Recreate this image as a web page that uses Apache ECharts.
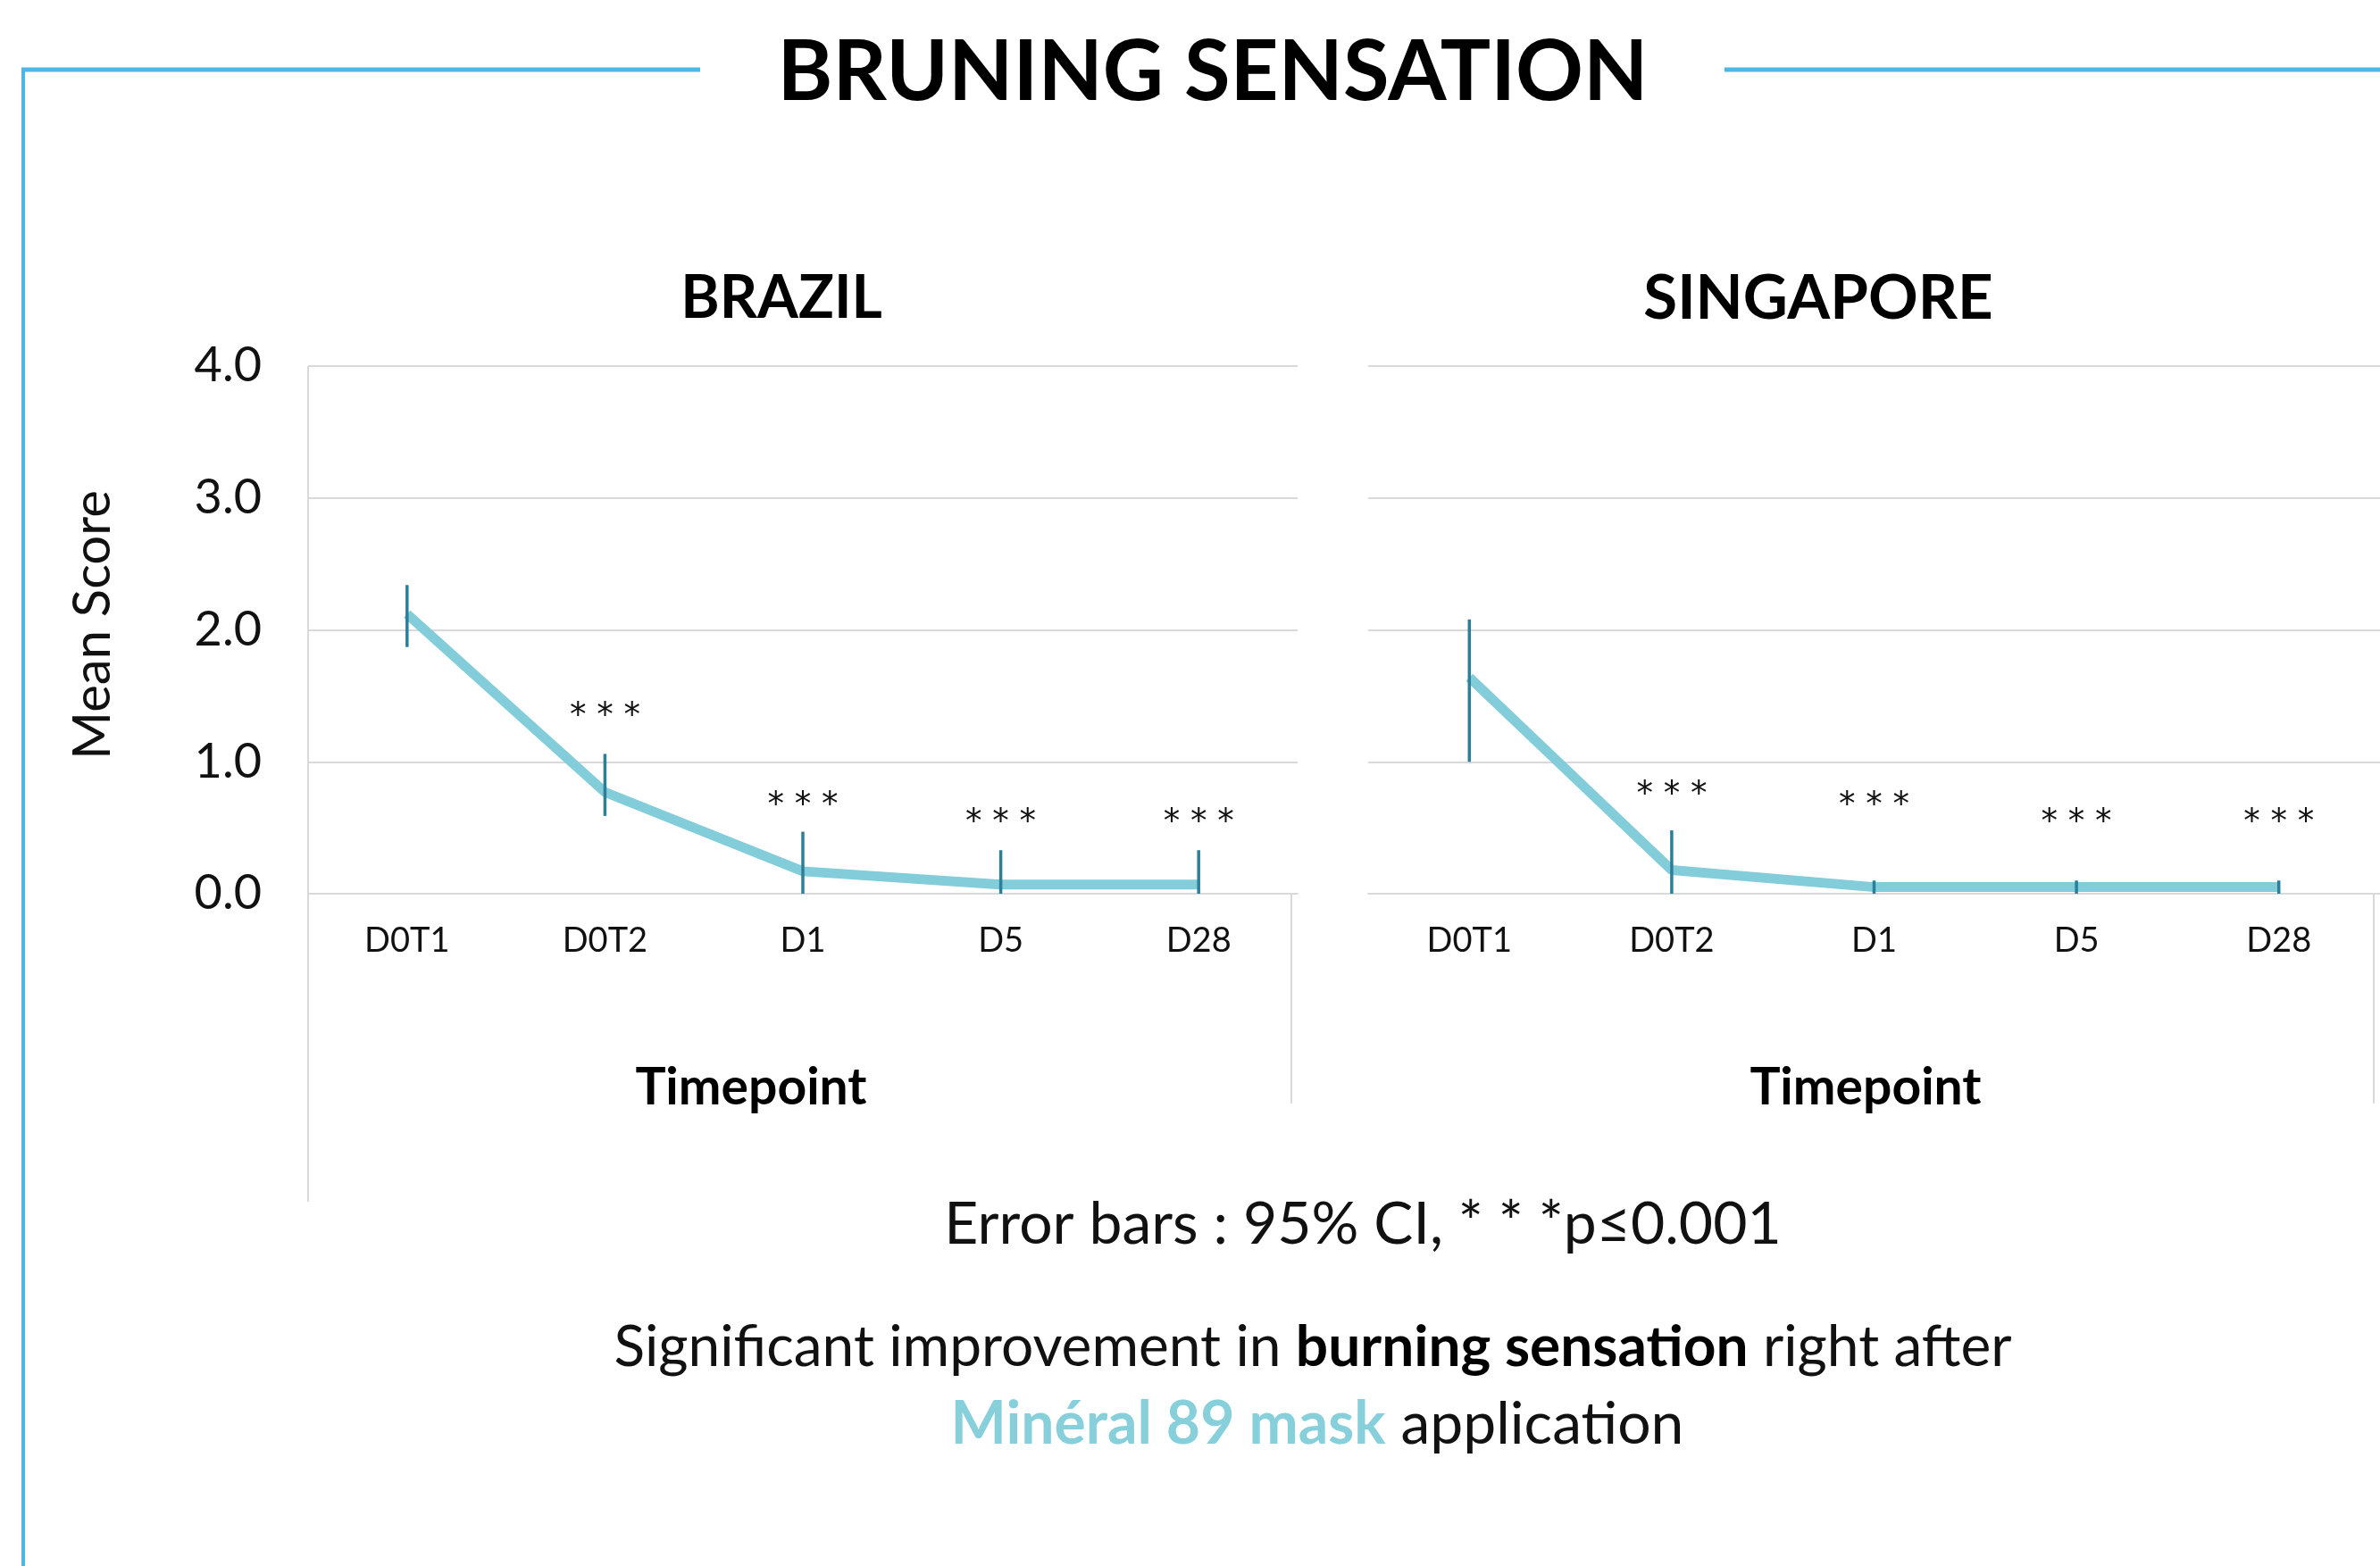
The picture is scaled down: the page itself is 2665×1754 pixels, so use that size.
<!DOCTYPE html>
<html>
<head>
<meta charset="utf-8">
<script src="https://cdn.jsdelivr.net/npm/echarts@6/dist/echarts.min.js"></script>
<style>
html,body{margin:0;padding:0;background:#fff;}
#chart{width:2665px;height:1754px;}
</style>
</head>
<body>
<div id="chart"></div>
<script>
// ---- Data ----
const categories = ['D0T1', 'D0T2', 'D1', 'D5', 'D28'];
const yTicks = ['0.0', '1.0', '2.0', '3.0', '4.0'];

const brazilMean = [2.12, 0.77, 0.17, 0.07, 0.07];
const brazilLow  = [1.87, 0.59, 0.00, 0.00, 0.00];
const brazilHigh = [2.34, 1.06, 0.47, 0.33, 0.33];
const brazilStarLevel = [null, 1.38, 0.70, 0.57, 0.57];

const singaporeMean = [1.64, 0.18, 0.05, 0.05, 0.05];
const singaporeLow  = [1.00, 0.00, 0.00, 0.00, 0.00];
const singaporeHigh = [2.08, 0.48, 0.10, 0.10, 0.10];
const singaporeStarLevel = [null, 0.78, 0.70, 0.57, 0.57];

const sigLabel = ['', '* * *', '* * *', '* * *', '* * *'];

// ---- Styles ----
const FONT = 'Lato, "Open Sans", sans-serif';
const LINE_COLOR = '#82CDD9';
const ERR_COLOR = '#2D7F99';
const FRAME_BLUE = '#4DB6E4';
const GRID_GRAY = '#D9D9D9';
const TEXT = '#111111';

const chart = echarts.init(document.getElementById('chart'), null, {renderer: 'canvas'});

function errSeries(idx, low, high) {
  return {
    type: 'custom', xAxisIndex: idx, yAxisIndex: idx, z: 5,
    data: categories.map((c, i) => [i, low[i], high[i]]),
    encode: {x: 0, y: [1, 2]},
    renderItem: function (params, api) {
      const x = api.value(0);
      const lo = api.coord([x, api.value(1)]);
      const hi = api.coord([x, api.value(2)]);
      return {type: 'line', shape: {x1: lo[0], y1: lo[1], x2: hi[0], y2: hi[1]},
        style: {stroke: ERR_COLOR, lineWidth: 3.5}};
    }
  };
}
function starSeries(idx, levels) {
  const d = [];
  levels.forEach((v, i) => { if (v !== null) d.push([i, v, sigLabel[i]]); });
  return {
    type: 'custom', xAxisIndex: idx, yAxisIndex: idx, z: 6,
    data: d, encode: {x: 0, y: 1},
    renderItem: function (params, api) {
      const p = api.coord([api.value(0), api.value(1)]);
      return {type: 'text', x: p[0], y: p[1] + 6,
        style: {text: d[params.dataIndex][2], align: 'center', verticalAlign: 'middle',
          fontSize: 37, fontFamily: '"DejaVu Sans", sans-serif', fill: TEXT}};
    }
  };
}
function yAxis(idx, showLabels) {
  return {
    type: 'value', gridIndex: idx, min: 0, max: 4, interval: 1,
    axisLine: {show: false}, axisTick: {show: false},
    axisLabel: {show: showLabels, fontSize: 54, fontFamily: FONT, color: TEXT, margin: 52,
      formatter: v => yTicks[Math.round(v)]},
    splitLine: {show: true, lineStyle: {color: GRID_GRAY, width: 2}}
  };
}
function xAxis(idx) {
  return {
    type: 'category', gridIndex: idx, data: categories, boundaryGap: true,
    axisLine: {show: true, lineStyle: {color: GRID_GRAY, width: 2}},
    axisTick: {show: false},
    axisLabel: {fontSize: 38, fontFamily: FONT, color: TEXT, margin: 34}
  };
}

const option = {
  backgroundColor: '#ffffff',
  animation: false,
  grid: [
    {left: 345, top: 410, width: 1108, height: 591},
    {left: 1532, top: 410, width: 1133, height: 591}
  ],
  xAxis: [xAxis(0), xAxis(1)],
  yAxis: [yAxis(0, true), yAxis(1, false)],
  series: [
    {type: 'line', xAxisIndex: 0, yAxisIndex: 0, data: brazilMean, showSymbol: false, z: 3,
      lineStyle: {color: LINE_COLOR, width: 11}, itemStyle: {color: LINE_COLOR}},
    errSeries(0, brazilLow, brazilHigh),
    starSeries(0, brazilStarLevel),
    {type: 'line', xAxisIndex: 1, yAxisIndex: 1, data: singaporeMean, showSymbol: false, z: 3,
      lineStyle: {color: LINE_COLOR, width: 11}, itemStyle: {color: LINE_COLOR}},
    errSeries(1, singaporeLow, singaporeHigh),
    starSeries(1, singaporeStarLevel)
  ],
  graphic: [
    // frame
    {type: 'line', shape: {x1: 24, y1: 78, x2: 784, y2: 78}, style: {stroke: FRAME_BLUE, lineWidth: 5}},
    {type: 'line', shape: {x1: 1931, y1: 78, x2: 2665, y2: 78}, style: {stroke: FRAME_BLUE, lineWidth: 5}},
    {type: 'line', shape: {x1: 26, y1: 76, x2: 26, y2: 1754}, style: {stroke: FRAME_BLUE, lineWidth: 4}},
    // plot-area borders
    {type: 'line', shape: {x1: 345, y1: 410, x2: 345, y2: 1346}, style: {stroke: GRID_GRAY, lineWidth: 2}},
    {type: 'line', shape: {x1: 1446, y1: 1001, x2: 1446, y2: 1236}, style: {stroke: GRID_GRAY, lineWidth: 2}},
    {type: 'line', shape: {x1: 2658, y1: 1001, x2: 2658, y2: 1236}, style: {stroke: GRID_GRAY, lineWidth: 2}},
    // titles
    {type: 'text', x: 1358, y: 82, style: {text: 'BRUNING SENSATION', align: 'center', verticalAlign: 'middle',
      fontSize: 94, fontWeight: 'bold', fontFamily: FONT, fill: '#000'}},
    {type: 'text', x: 875, y: 335, style: {text: 'BRAZIL', align: 'center', verticalAlign: 'middle',
      fontSize: 66, fontWeight: 'bold', fontFamily: FONT, fill: '#000'}},
    {type: 'text', x: 2036, y: 335, style: {text: 'SINGAPORE', align: 'center', verticalAlign: 'middle',
      fontSize: 69, fontWeight: 'bold', fontFamily: FONT, fill: '#000'}},
    {type: 'text', x: 104, y: 700, rotation: Math.PI / 2, style: {text: 'Mean Score', align: 'center', verticalAlign: 'middle',
      fontSize: 58, fontFamily: FONT, fill: TEXT}},
    {type: 'text', x: 841, y: 1219, style: {text: 'Timepoint', align: 'center', verticalAlign: 'middle',
      fontSize: 57, fontWeight: 'bold', fontFamily: FONT, fill: '#000'}},
    {type: 'text', x: 2089, y: 1219, style: {text: 'Timepoint', align: 'center', verticalAlign: 'middle',
      fontSize: 57, fontWeight: 'bold', fontFamily: FONT, fill: '#000'}},
    {type: 'text', x: 1526, y: 1372, style: {text: 'Error bars : 95% CI, * * *p\u22640.001', align: 'center', verticalAlign: 'middle',
      fontSize: 66, fontFamily: FONT, fill: TEXT}},
    {type: 'text', x: 1470, y: 1509, style: {
      text: '{n|Significant improvement in }{b|burning sensation}{n| right after}',
      align: 'center', verticalAlign: 'middle',
      rich: {n: {fontSize: 64, fontFamily: FONT, fill: TEXT, color: TEXT},
             b: {fontSize: 64, fontFamily: FONT, fontWeight: 'bold', fill: '#000', color: '#000'}}}},
    {type: 'text', x: 1475, y: 1596, style: {
      text: '{c|Min\u00e9ral 89 mask}{n| application}',
      align: 'center', verticalAlign: 'middle',
      rich: {n: {fontSize: 66, fontFamily: FONT, fill: TEXT, color: TEXT},
             c: {fontSize: 66, fontFamily: FONT, fontWeight: 'bold', fill: '#86CFDB', color: '#86CFDB'}}}}
  ]
};
chart.setOption(option);
</script>
</body>
</html>
